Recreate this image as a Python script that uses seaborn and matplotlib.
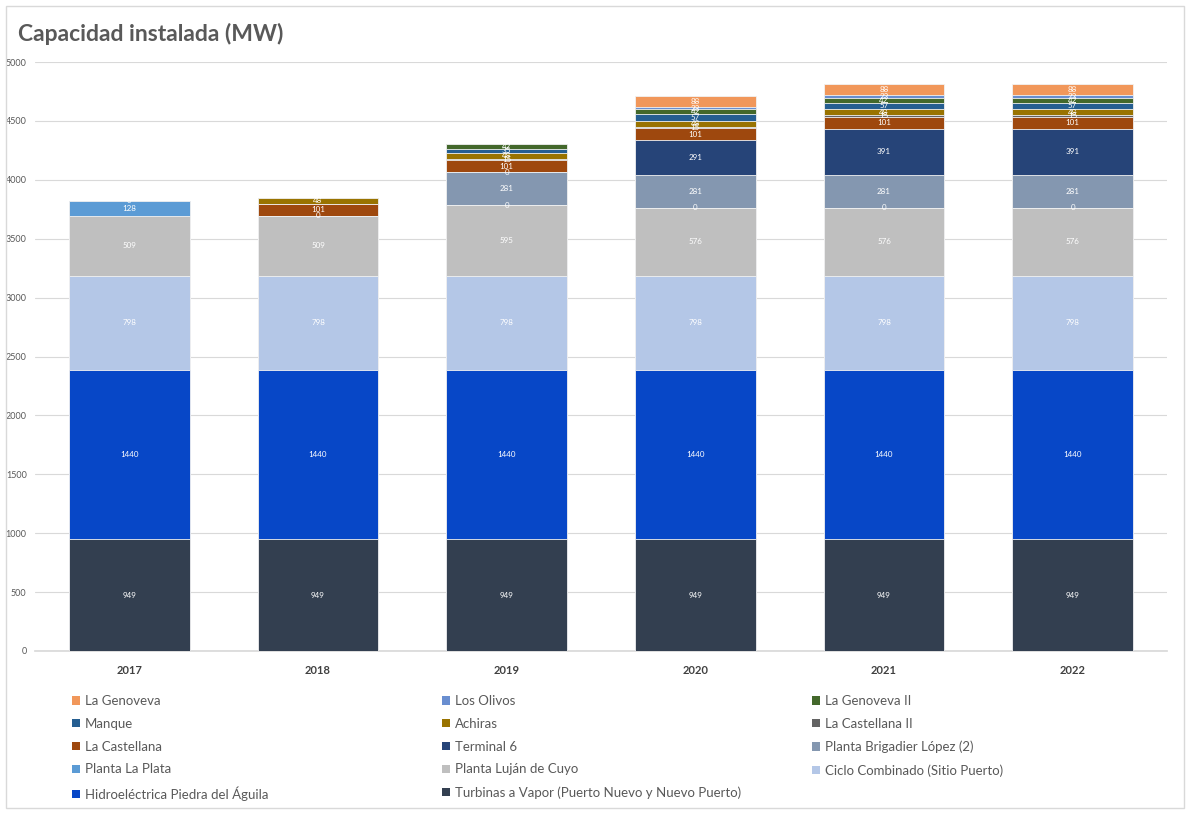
import numpy as np
import pandas as pd
import matplotlib
matplotlib.use("Agg")
import matplotlib.pyplot as plt
from matplotlib.patches import Patch, Rectangle
import seaborn as sns

years = ["2017", "2018", "2019", "2020", "2021", "2022"]

# Series, bottom to top (NaN = series not present that year)
nan = np.nan
turbinas = [949, 949, 949, 949, 949, 949]
hidro = [1440, 1440, 1440, 1440, 1440, 1440]
ciclo = [798, 798, 798, 798, 798, 798]
lujan = [509, 509, 595, 576, 576, 576]
la_plata = [128, 0, 0, 0, 0, 0]
brigadier = [0, nan, 281, 281, 281, 281]
terminal6 = [nan, nan, 0, 291, 391, 391]
castellana = [nan, 101, 101, 101, 101, 101]
castellana2 = [nan, nan, 15, 15, 15, 15]
achiras = [nan, 48, 48, 48, 48, 48]
manque = [nan, nan, 35, 57, 57, 57]
genoveva2 = [nan, nan, 42, 42, 42, 42]
los_olivos = [nan, nan, nan, 23, 23, 23]
genoveva = [nan, nan, nan, 88, 88, 88]

series_names = [
    "Turbinas a Vapor (Puerto Nuevo y Nuevo Puerto)",
    "Hidroeléctrica Piedra del Águila",
    "Ciclo Combinado (Sitio Puerto)",
    "Planta Luján de Cuyo",
    "Planta La Plata",
    "Planta Brigadier López (2)",
    "Terminal 6",
    "La Castellana",
    "La Castellana II",
    "Achiras",
    "Manque",
    "La Genoveva II",
    "Los Olivos",
    "La Genoveva",
]
series_values = [turbinas, hidro, ciclo, lujan, la_plata, brigadier, terminal6,
                 castellana, castellana2, achiras, manque, genoveva2, los_olivos, genoveva]
series_colors = ["#333F50", "#0747C7", "#B4C7E7", "#BFBFBF", "#5B9BD5", "#8497B0",
                 "#264478", "#9E480E", "#636363", "#997300", "#255E91", "#43682B",
                 "#698ED0", "#F1975A"]

df = pd.DataFrame({name: vals for name, vals in zip(series_names, series_values)}, index=years)
cum = df.fillna(0).cumsum(axis=1)

sns.set_theme(style="white")
plt.rcParams["font.family"] = ["Lato", "DejaVu Sans"]

fig = plt.figure(figsize=(11.9, 8.14), dpi=100)
ax = fig.add_axes([35 / 1190, 1 - 651 / 814, (1167 - 35) / 1190, (651 - 62) / 814])

# draw cumulative totals from top series down so lower series overdraw
for name, color in reversed(list(zip(series_names, series_colors))):
    d = pd.DataFrame({"year": years, "value": cum[name].values})
    sns.barplot(data=d, x="year", y="value", order=years, color=color,
                width=0.64, saturation=1, ax=ax, zorder=3, errorbar=None,
                linewidth=0.6, edgecolor="#F2F2F2")

# data labels
for i, y in enumerate(years):
    for name in series_names:
        v = df.loc[y, name]
        if np.isnan(v):
            continue
        top = cum.loc[y, name]
        ax.text(i, top - v / 2, f"{int(v)}", ha="center", va="center",
                fontsize=5.8, color="white", zorder=5)

ax.set_ylim(0, 5000)
ax.set_xlim(-0.5, 5.5)
ax.set_yticks(np.arange(0, 5001, 500))
ax.yaxis.grid(True, color="#D9D9D9", linewidth=0.8, zorder=0)
ax.set_axisbelow(True)
for s in ["left", "right", "top"]:
    ax.spines[s].set_visible(False)
ax.spines["bottom"].set_color("#D9D9D9")
ax.set_xlabel("")
ax.set_ylabel("")
ax.tick_params(axis="y", labelsize=6.5, labelcolor="#595959", length=0, pad=6)
ax.tick_params(axis="x", labelsize=8, labelcolor="#404040", length=0, pad=10)
for lab in ax.get_xticklabels():
    lab.set_fontweight("bold")

# title
fig.text(18 / 1190, 1 - 34 / 814, "Capacidad instalada (MW)", fontsize=16.5,
         fontweight="bold", color="#595959", va="center", ha="left")

# legend in three columns, row-major in reverse stack order
legend_order = list(reversed(series_names))
color_map = dict(zip(series_names, series_colors))
col_x = [72, 442, 812]
for c in range(3):
    names = legend_order[c::3]
    handles = [Patch(facecolor=color_map[n], edgecolor="none") for n in names]
    fig.legend(handles, names, loc="upper left",
               bbox_to_anchor=(col_x[c] / 1190, 1 - 695 / 814),
               frameon=False, fontsize=9.5, labelcolor="#595959",
               handlelength=0.6, handleheight=0.6, handletextpad=0.4,
               labelspacing=0.82, borderaxespad=0, borderpad=0)

fig.patches.append(Rectangle((6 / 1190, 6 / 814), 1178 / 1190, 802 / 814,
                             transform=fig.transFigure, fill=False,
                             edgecolor="#D9D9D9", linewidth=1))

fig.savefig("out.png", dpi=100)
